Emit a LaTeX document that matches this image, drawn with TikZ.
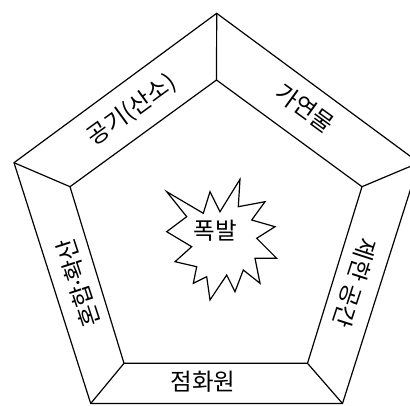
\documentclass[tikz,border=0pt]{standalone}
\usepackage{fontspec}
\newfontfamily\kr{Noto Sans CJK KR}
\begin{document}
\begin{tikzpicture}[x=1pt,y=-1pt,line width=1.2pt,line join=miter,
  lbl/.style={font=\kr\fontsize{23.5}{26}\selectfont,inner sep=0pt}]
\useasboundingbox (0,0) rectangle (410,405);
\clip (0,0) rectangle (410,405);
% outer pentagon
\coordinate (OT) at (216.7,13.3);
\coordinate (OL) at (14,162.7);
\coordinate (OR) at (419,162.7);
\coordinate (OBL) at (90.7,403.5);
\coordinate (OBR) at (342.5,403.5);
% inner pentagon
\coordinate (IT) at (216.5,80);
\coordinate (IL) at (70,186.7);
\coordinate (IR) at (362,186.7);
\coordinate (IBL) at (124,363.3);
\coordinate (IBR) at (307.5,363.3);
\draw (OT)--(OR)--(OBR)--(OBL)--(OL)--cycle;
\draw (IT)--(IR)--(IBR)--(IBL)--(IL)--cycle;
\draw (OT)--(IT);
\draw (OL)--(IL);
\draw (OR)--(IR);
\draw (OBL)--(IBL);
\draw (OBR)--(IBR);
% labels
\node[lbl,rotate=36] (air) at (132,110) {공기(산소)};
\node[lbl,rotate=-36] (fuel) at (305,108) {가연물};
\node[lbl,rotate=-108] (space) at (355,283) {제한 공간};
\node[lbl,rotate=108] (mix) at (78,283) {혼합\kern-0.18em·\kern-0.18em확산};
\node[lbl] (ign) at (203,382) {점화원};
% starburst
\draw (166.7,191.7) -- (203.3,213.3) -- (210,191.7) -- (220,211.7) -- (240,179.3)
  -- (238.3,206.7) -- (265,201.7) -- (251.7,220) -- (275,226.7) -- (256.7,238.3)
  -- (276.7,258.3) -- (255,258.3) -- (260,283.3) -- (243.3,270) -- (235,291.7)
  -- (226.7,275) -- (210,300) -- (206.7,276.7) -- (193.3,283.3) -- (196.7,266.7)
  -- (175,261.7) -- (191.7,246.7) -- (166.7,231.7) -- (186.7,216.7) -- cycle;
\node[lbl] (boom) at (215.5,231) {폭발};
\end{tikzpicture}
\end{document}
